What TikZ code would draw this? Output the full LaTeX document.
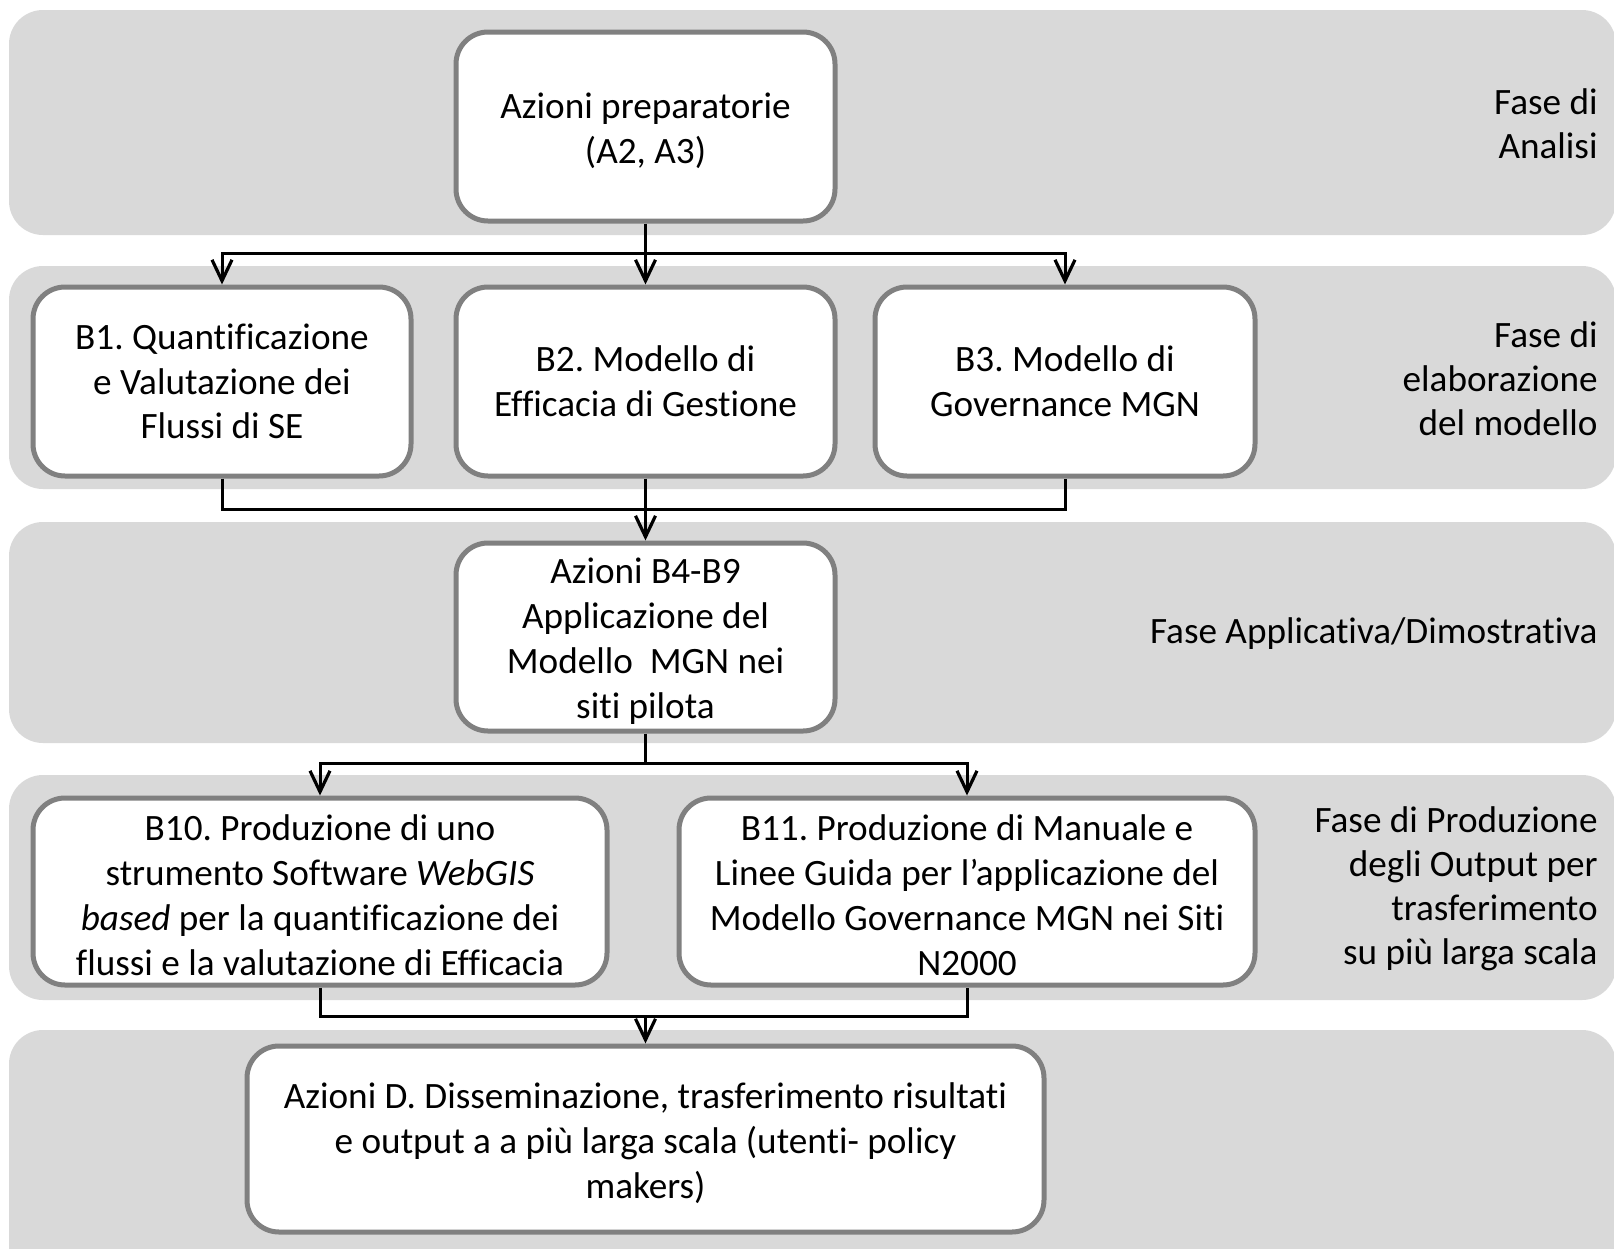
\documentclass[tikz,border=0pt]{standalone}
\usepackage{fontspec}
\setmainfont{Carlito}[Ligatures=NoCommon]
\frenchspacing
\usetikzlibrary{arrows.meta}
\definecolor{bandgray}{HTML}{D9D9D9}
\definecolor{boxgray}{HTML}{808080}
\newcommand\myliftstrut[1]{\rule{0pt}{#1}}
\begin{document}
\begin{tikzpicture}[x=0.5pt,y=-0.5pt,
  band/.style={fill=bandgray, draw=none, rounded corners=17pt},
  box/.style={draw=boxgray, line width=2.5pt, fill=white, rounded corners=16pt,
    align=center, inner sep=0pt, font=\fontsize{18.6}{22.4}\selectfont},
  lbl/.style={align=right, anchor=east, inner sep=0pt, font=\fontsize{18.6}{22}\selectfont},
  conn/.style={line width=1.5pt, draw=black},
  arr/.style={conn, -{Straight Barb[length=10.5pt,width=10pt,line width=1.6pt]}}
]
\useasboundingbox (0,0) rectangle (1614,1249);
\clip (0,0) rectangle (1614,1249);

% bands
\path[band] (9,10) rectangle (1616,235);
\path[band] (9,266) rectangle (1616,489);
\path[band] (9,522) rectangle (1616,743);
\path[band] (9,775) rectangle (1616,1000);
\path[band] (9,1030) rectangle (1616,1320);

% boxes
\node[box, minimum width=189.5pt, minimum height=94.5pt] (A) at (645.5,126.5)
  {\myliftstrut{17pt}Azioni preparatorie\\(A2, A3)};
\node[box, minimum width=189pt, minimum height=94.5pt] (B1) at (222,381.5)
  {B1. Quantificazione\\e Valutazione dei\\Flussi di SE};
\node[box, minimum width=189.5pt, minimum height=94.5pt] (B2) at (645.5,381.5)
  {B2. Modello di\\Efficacia di Gestione};
\node[box, minimum width=190pt, minimum height=94.5pt] (B3) at (1065,381.5)
  {B3. Modello di\\Governance MGN};
\node[box, minimum width=189.5pt, minimum height=94pt] (B49) at (645.5,637)
  {\myliftstrut{17pt}Azioni B4-B9\\Applicazione del\\Modello\ \ MGN nei\\siti pilota};
\node[box, minimum width=287pt, minimum height=93.5pt] (B10) at (320,891.5)
  {\myliftstrut{16.5pt}B10. Produzione di uno\\strumento Software \textit{WebGIS}\\\textit{based} per la quantificazione dei\\flussi e la valutazione di Efficacia};
\node[box, minimum width=288pt, minimum height=93.5pt] (B11) at (967,891.5)
  {\myliftstrut{16.5pt}B11. Produzione di Manuale e\\Linee Guida per l’applicazione del\\Modello Governance MGN nei Siti\\N2000};
\node[box, minimum width=398.5pt, minimum height=93pt] (D) at (645.5,1139)
  {\myliftstrut{17pt}Azioni D. Disseminazione, trasferimento risultati\\e output a a più larga scala (utenti- policy\\makers)};

% phase labels
\node[lbl] (L1) at (1598,124) {Fase di\\Analisi};
\node[lbl] (L2) at (1598,379) {Fase di\\elaborazione\\del modello};
\node[lbl] (L3) at (1598,634) {Fase Applicativa/Dimostrativa};
\node[lbl] (L4) at (1598,889) {Fase di Produzione\\degli Output per\\trasferimento\\su più larga scala};

% connectors
\coordinate (j1) at (645.5,253);
\coordinate (j2) at (645.5,509);
\coordinate (j3) at (645.5,763);
\coordinate (j4) at (645.5,1016);

\draw[conn] (A.south) -- (j1);
\draw[arr] (j1) -| (B1.north);
\draw[arr] (j1) -- (B2.north);
\draw[arr] (j1) -| (B3.north);

\draw[conn] (B1.south) -- (B1.south |- j2) -- (B3.south |- j2) -- (B3.south);
\draw[arr] (B2.south) -- (B49.north);

\draw[conn] (B49.south) -- (j3);
\draw[arr] (j3) -| (B10.north);
\draw[arr] (j3) -| (B11.north);

\draw[conn] (B10.south) -- (B10.south |- j4) -- (B11.south |- j4) -- (B11.south);
\draw[arr] (j4) -- (D.north);
\end{tikzpicture}
\end{document}
